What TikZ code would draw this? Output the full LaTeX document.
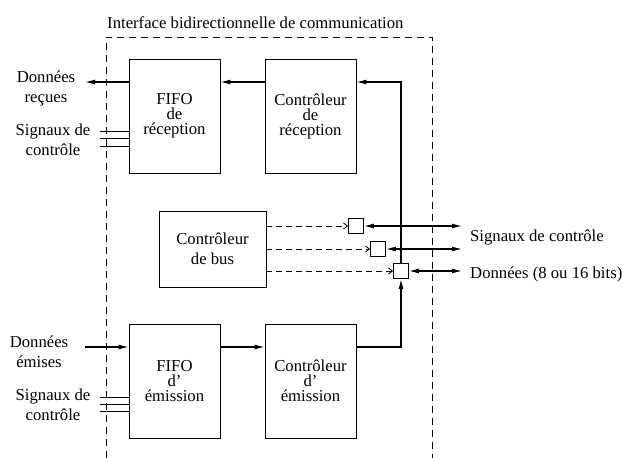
\documentclass[tikz,border=0pt]{standalone}
\usepackage{fontspec}
\setmainfont{Liberation Serif}
\usetikzlibrary{arrows.meta}
\begin{document}
\begin{tikzpicture}[x=1pt,y=-1pt,
  blk/.style={draw, line width=0.8pt, minimum width=91pt, minimum height=114pt, inner sep=0pt, align=center, font=\fontsize{16.7}{15}\selectfont},
  sq/.style={draw, line width=0.8pt, minimum size=15pt, inner sep=0pt},
  lbl/.style={inner sep=0pt, align=center, font=\fontsize{16.7}{20}\selectfont},
  arr/.style={line width=1.2pt, -{Latex[length=10pt,width=5pt]}},
  darr/.style={line width=1.2pt, {Latex[length=10pt,width=5pt]}-{Latex[length=10pt,width=5pt]}},
  dsh/.style={line width=0.8pt, dash pattern=on 6pt off 4pt, -{Straight Barb[length=4pt,width=6pt]}},
  framed/.style={line width=0.8pt, dash pattern=on 7pt off 5pt},
  sig/.style={line width=0.8pt}
]
\useasboundingbox (0,0) rectangle (622,458);

% frame
\draw[framed] (106,458) -- (106,37) -- (432,37) -- (432,458);
\node[lbl, anchor=base west] (title) at (107,28) {Interface bidirectionnelle de communication};

% blocks
\node[blk] (fifoR) at (174.5,116) {FIFO\\de\\réception};
\node[blk] (ctrlR) at (310.5,116) {Contrôleur\\de\\réception};
\node[blk, minimum width=107pt, minimum height=76pt, font=\fontsize{16.7}{20}\selectfont] (bus) at (212.5,249) {Contrôleur\\de bus};
\node[blk] (fifoE) at (174.5,381) {FIFO\\d’\\émission};
\node[blk] (ctrlE) at (310.5,381) {Contrôleur\\d’\\émission};

% switches
\node[sq] (s1) at (356,226) {};
\node[sq] (s2) at (378,249) {};
\node[sq] (s3) at (401,271) {};

% free ends
\coordinate (outR) at (85,82);
\coordinate (inE) at (85,347);
\coordinate (topc) at (401,82);
\coordinate (e1) at (462,226);
\coordinate (e2) at (462,249);
\coordinate (e3) at (462,271);

% labels (anchor=base is the last line's baseline)
\node[lbl, anchor=base] (lRecv) at (46,102) {Données\\reçues};
\node[lbl, anchor=base] (lSigR) at (53,155) {Signaux de\\contrôle};
\node[lbl, anchor=base] (lEmit) at (39,367) {Données\\émises};
\node[lbl, anchor=base] (lSigE) at (53,420) {Signaux de\\contrôle};
\node[lbl, anchor=base west] (lSig) at (470,241) {Signaux de contrôle};
\node[lbl, anchor=base west] (lDat) at (470,278) {Données (8 ou 16 bits)};

% connectors
\draw[arr] (ctrlR.west |- topc) -- (fifoR.east |- topc);
\draw[arr] (fifoR.west |- topc) -- (outR);
\draw[arr] (s3.north) -- (topc) -- (ctrlR.east |- topc);
\draw[arr] (ctrlE.east |- inE) -| (s3.south);
\draw[arr] (fifoE.east |- inE) -- (ctrlE.west |- inE);
\draw[arr] (inE) -- (fifoE.west |- inE);
\draw[dsh] (bus.east |- s1) -- (s1.west);
\draw[dsh] (bus.east |- s2) -- (s2.west);
\draw[dsh] (bus.east |- s3) -- (s3.west);
\draw[darr] (s1.east) -- (e1);
\draw[darr] (s2.east) -- (e2);
\draw[darr] (s3.east) -- (e3);

% control signal lines
\foreach \yy in {131,138.5,146} {\draw[sig] (100,\yy) -- (fifoR.west |- 0,\yy);}
\foreach \yy in {397,404,411} {\draw[sig] (100,\yy) -- (fifoE.west |- 0,\yy);}
\end{tikzpicture}
\end{document}
